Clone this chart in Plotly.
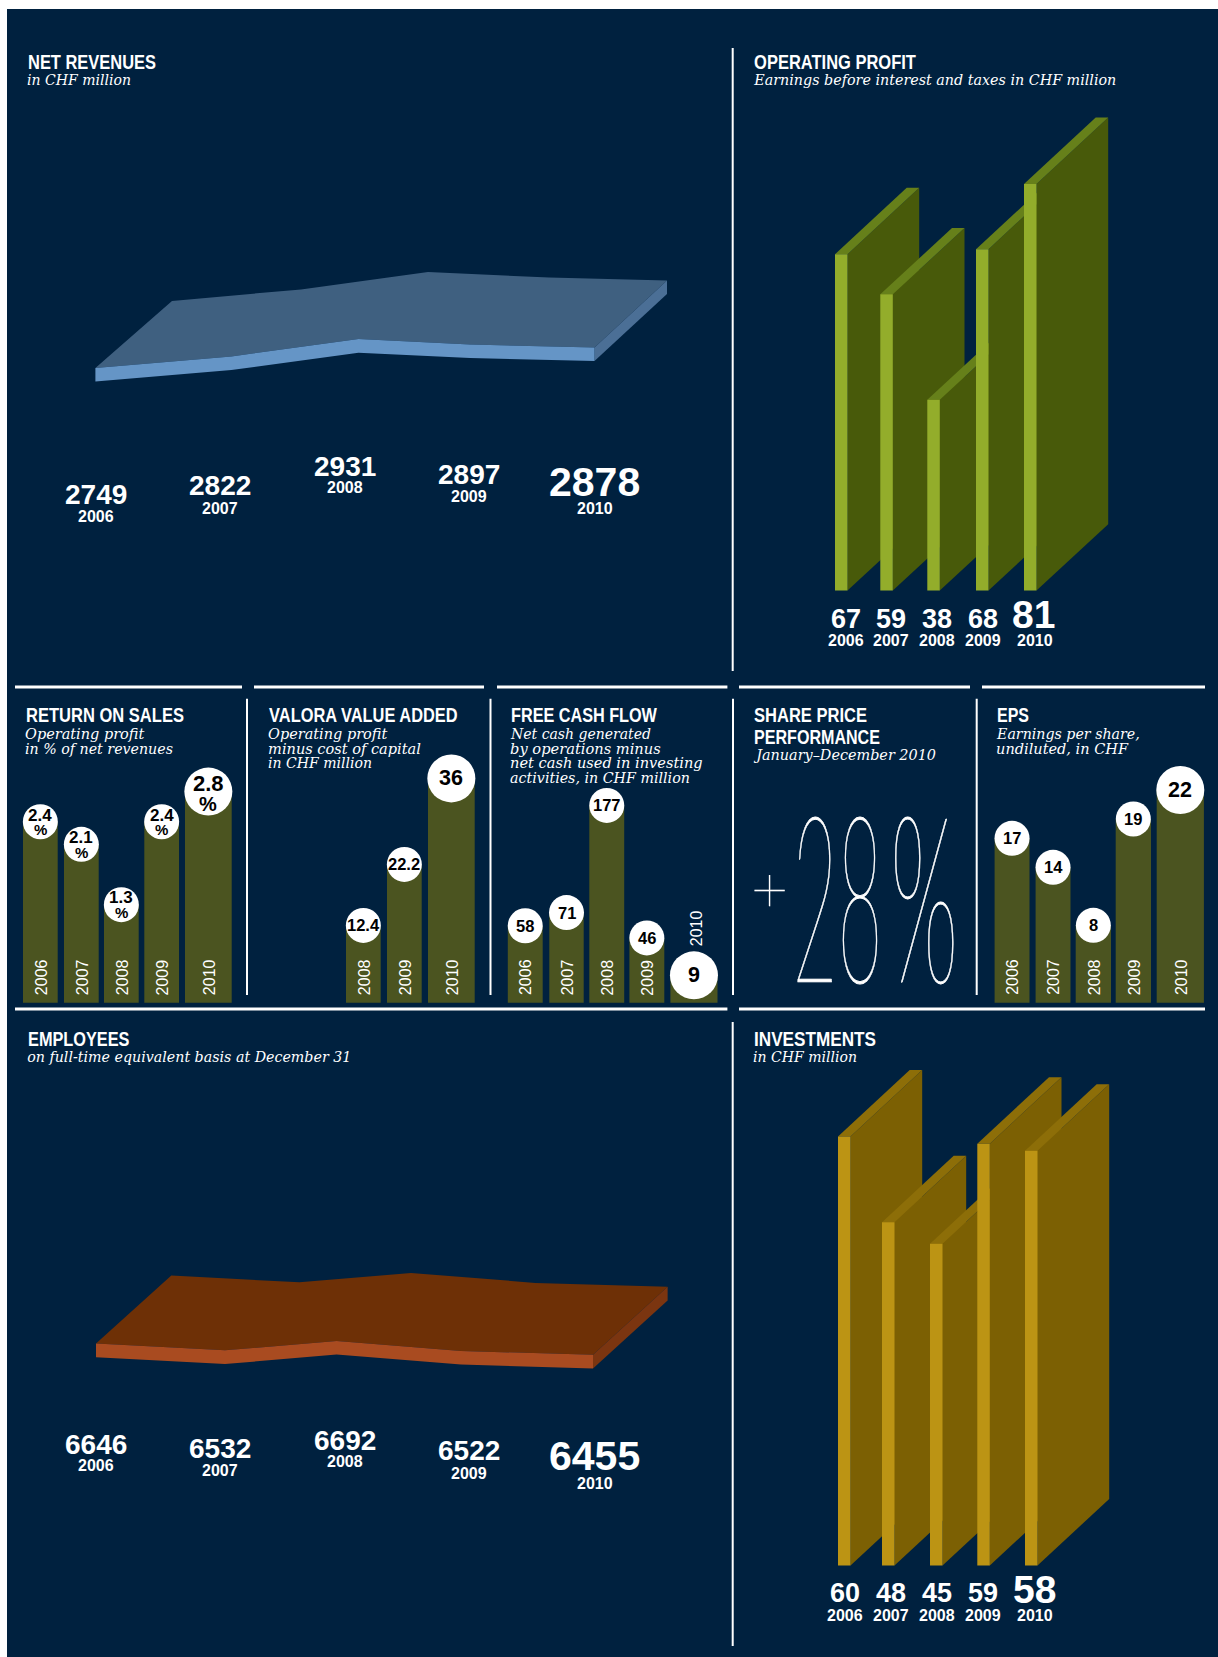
import json
import plotly.graph_objects as go

W, H = 1218, 1657

# ---- values -------------------------------------------------------------
YEARS = ["2006", "2007", "2008", "2009", "2010"]
NET_REVENUES = [2749, 2822, 2931, 2897, 2878]
EMPLOYEES = [6646, 6532, 6692, 6522, 6455]
OPERATING_PROFIT = [67, 59, 38, 68, 81]
INVESTMENTS = [60, 48, 45, 59, 58]
RETURN_ON_SALES = [2.4, 2.1, 1.3, 2.4, 2.8]
VALUE_ADDED_YEARS = ["2008", "2009", "2010"]
VALUE_ADDED = [12.4, 22.2, 36]
FREE_CASH_FLOW = [58, 71, 177, 46, 9]
EPS = [17, 14, 8, 19, 22]

# ---- palette ------------------------------------------------------------
NAVY = "#00213F"
WHITE = "#FFFFFF"
OLIVE = "#4B5420"
SANS = "Liberation Sans"
SERIF = "DejaVu Serif"

# Set widths of the headings and captions: the typeface is condensed to these pixel widths in the page.
FIT_WIDTHS = {
    "NET REVENUES": 128, "OPERATING PROFIT": 162, "RETURN ON SALES": 158, "VALORA VALUE ADDED": 188.7,
    "FREE CASH FLOW": 146, "SHARE PRICE": 113, "PERFORMANCE": 126, "EPS": 32, "EMPLOYEES": 101.5,
    "INVESTMENTS": 122, "in CHF million": 104, "Earnings before interest and taxes in CHF million": 362.5,
    "Operating profit": 119.3, "in % of net revenues": 148, "minus cost of capital": 153,
    "Net cash generated": 140, "by operations minus": 150.8, "net cash used in investing": 192.7,
    "activities, in CHF million": 180, "January–December 2010": 180, "Earnings per share,": 142.8,
    "undiluted, in CHF": 132, "on full-time equivalent basis at December 31": 324.5,
}

fig = go.Figure()
annotations = []
shapes = [dict(type="rect", xref="paper", yref="paper", x0=7 / W, x1=1, y0=0, y1=1 - 9 / H,
               fillcolor=NAVY, line_width=0, layer="below")]
axis_count = 0


def add_panel(x0, x1, y_top, y_zero, y_bottom, px_per_unit, floor=0):
    """Create an axis pair: x runs in page pixels, y in value units with a fixed pixel scale."""
    global axis_count
    axis_count += 1
    suffix = "" if axis_count == 1 else str(axis_count)
    common = dict(visible=False, fixedrange=True, showgrid=False, zeroline=False)
    fig.update_layout({
        "xaxis" + suffix: dict(domain=[x0 / W, x1 / W], range=[x0, x1], anchor="y" + suffix, **common),
        "yaxis" + suffix: dict(domain=[1 - y_bottom / H, 1 - y_top / H],
                               range=[floor - (y_bottom - y_zero) / px_per_unit,
                                      floor + (y_zero - y_top) / px_per_unit],
                               anchor="x" + suffix, **common),
    })
    return "x" + suffix, "y" + suffix


def polygon(xa, ya, xs, ys, colour):
    fig.add_trace(go.Scatter(x=xs, y=ys, xaxis=xa, yaxis=ya, mode="lines", fill="toself",
                             fillcolor=colour, line=dict(width=0), hoverinfo="skip", showlegend=False))


def label(text, x, y, size, colour=WHITE, family=SANS, bold=True, italic=False,
          xref="paper", yref="paper", yshift=0, anchor="center", angle=0, weight=None):
    annotations.append(dict(
        text=text, x=x / W if xref == "paper" else x, y=1 - y / H if yref == "paper" else y,
        xref=xref, yref=yref, yshift=yshift, xanchor=anchor, yanchor="middle", showarrow=False,
        textangle=angle, borderpad=0,
        font=dict(family=family, size=size, color=colour, weight=weight if weight else (700 if bold else 400),
                  style="italic" if italic else "normal")))


def heading(lines, subs, x, y_first, y_sub_first):
    for i, line in enumerate(lines):
        label(line, x, y_first + i * 22, 20.5, anchor="left")
    for i, line in enumerate(subs):
        label(line, x - 1, y_sub_first + i * 14.6, 14, family=SERIF, bold=False, italic=True, anchor="left")


def rule(x0, y0, x1, y1, width):
    shapes.append(dict(type="line", xref="paper", yref="paper", x0=x0 / W, x1=x1 / W,
                       y0=1 - y0 / H, y1=1 - y1 / H, line=dict(color=WHITE, width=width), layer="below"))


# ---- slab charts (net revenues, employees) ------------------------------
def slab(values, front_x, back_x, label_x, label_y, year_y, first_y, px_per_unit, depth, thick,
         top_c, front_c, side_c):
    xa, ya = add_panel(60, 720, first_y - 300, first_y, first_y + 300, px_per_unit, floor=values[0])
    d = depth / px_per_unit
    t = thick / px_per_unit
    polygon(xa, ya, front_x + back_x[::-1], values + [v + d for v in values[::-1]], top_c)
    polygon(xa, ya, [front_x[-1], back_x[-1], back_x[-1], front_x[-1]],
            [values[-1], values[-1] + d, values[-1] + d - t, values[-1] - t], side_c)
    polygon(xa, ya, front_x + front_x[::-1], values + [v - t for v in values[::-1]], front_c)
    for i, (v, year) in enumerate(zip(values, YEARS)):
        label(str(v), label_x[i], label_y[i], 41 if i == len(YEARS) - 1 else 28)
        label(year, label_x[i], year_y[i], 16)


LABEL_X = [96, 220, 345, 469, 594.5]
slab(NET_REVENUES, [95.4, 231.4, 358.5, 470, 594.5], [172, 301, 428, 549, 667], LABEL_X,
     [494.6, 485.7, 466, 474, 482], [516.8, 508.6, 488, 496, 508.6],
     368, 0.159, 67, 13.6, "#3F6080", "#6595C6", "#4B6F96")
slab(EMPLOYEES, [96, 225, 336.6, 461, 593], [171.3, 299.4, 411, 535.4, 667.6], LABEL_X,
     [1444, 1448.7, 1440, 1450.7, 1456], [1465.3, 1470.3, 1461.3, 1473.3, 1483.3],
     1343.6, 0.059, 68, 13.7, "#6E3006", "#A94B20", "#7B3510")


# ---- upright walls (operating profit, investments) ----------------------
def walls(values, lefts, strip, y_zero, px_per_unit, y_top, y_bottom, dx, dy, num_x, year_x, num_y, big_y, year_y,
          strip_c, wall_c, top_c):
    xa, ya = add_panel(760, 1180, y_top, y_zero, y_bottom, px_per_unit)
    d = dy / px_per_unit
    for left, v in zip(lefts, values):
        right = left + strip
        polygon(xa, ya, [right, right + dx, right + dx, right], [v, v + d, d, 0], wall_c)
        polygon(xa, ya, [left, left + dx, right + dx, right], [v, v + d, v + d, v], top_c)
        polygon(xa, ya, [left, right, right, left], [0, 0, v, v], strip_c)
    for i, (v, year) in enumerate(zip(values, YEARS)):
        last = i == len(YEARS) - 1
        label(str(v), num_x[i], big_y if last else num_y, 39 if last else 27)
        label(year, year_x[i], year_y, 16)


walls(OPERATING_PROFIT, [835, 880.3, 927.3, 976, 1024], 12.5, 590.5, 5.02, 60, 660, 71.7, 66.3,
      [845.5, 891, 936.5, 983, 1033], [845.5, 891, 937, 983, 1034.5], 619, 615, 640.5,
      "#93AD2B", "#485A0A", "#66801A")
walls(INVESTMENTS, [838, 882, 930, 977.3, 1025], 12.5, 1565.5, 7.15, 1060, 1650, 71.7, 66.5,
      [845.3, 891, 937, 983, 1034.7], [845.3, 891, 937, 983, 1034.7], 1593, 1589, 1615.7,
      "#BC9414", "#7C6003", "#8D6E08")


# ---- small bar charts ---------------------------------------------------
BASE_Y = 1002.7


def bars(values, years, edges, px_per_unit, floor, texts, big_size, small_size, two_line=False):
    xa, ya = add_panel(edges[0][0] - 10, edges[-1][1] + 10, 700, BASE_Y, BASE_Y + 2, px_per_unit, floor=floor)
    centres = [(a + b) / 2 for a, b in edges]
    widths = [b - a for a, b in edges]
    fig.add_trace(go.Bar(x=centres, y=[v - floor for v in values], base=floor, width=widths, xaxis=xa, yaxis=ya,
                         marker=dict(color=OLIVE, line_width=0), hoverinfo="skip", showlegend=False))
    sizes = [48 if i == len(values) - 1 else 35 for i in range(len(values))]
    fig.add_trace(go.Scatter(x=centres, y=values, mode="markers", xaxis=xa, yaxis=ya, cliponaxis=False,
                             marker=dict(size=sizes, color=WHITE, opacity=1, line_width=0), hoverinfo="skip",
                             showlegend=False))
    for i, (cx, v, txt, year) in enumerate(zip(centres, values, texts, years)):
        last = i == len(values) - 1
        size = big_size if last else small_size
        if two_line:
            label(txt, cx, v, size, colour="#000000", xref=xa, yref=ya, yshift=8 if last else 6.7)
            label("%", cx, v, 20 if last else 15, colour="#000000", xref=xa, yref=ya, yshift=-12 if last else -8)
        else:
            label(txt, cx, v, size, colour="#000000", xref=xa, yref=ya)
        raised = last and values is FREE_CASH_FLOW
        label(year, cx + 0.5 + (1.5 if raised else 0), floor, 16, xref=xa, yref=ya, bold=False, angle=-90,
              yshift=74.4 if raised else 25.4)


bars(RETURN_ON_SALES, YEARS, [(23, 57.7), (64, 98.7), (104, 138.7), (144.3, 179), (185, 231.7)],
     75.4, 0, [str(v) for v in RETURN_ON_SALES], 22, 17, two_line=True)
bars(VALUE_ADDED, VALUE_ADDED_YEARS, [(346, 380.7), (387, 421.7), (428, 474.7)],
     6.23, 0, [str(v) for v in VALUE_ADDED], 21.5, 16.5)
bars(FREE_CASH_FLOW, YEARS, [(507.8, 542.7), (549.3, 583.7), (589.3, 624.2), (629.4, 664.3), (670.4, 717.5)],
     1.011, -18.1, [str(v) for v in FREE_CASH_FLOW], 21.5, 16.5)
bars(EPS, YEARS, [(994.6, 1029.5), (1035.6, 1070.5), (1075.7, 1111), (1115.7, 1151), (1156.7, 1203.9)],
     9.67, 0, [str(v) for v in EPS], 21.5, 16.5)

# ---- headings -----------------------------------------------------------
heading(["NET REVENUES"], ["in CHF million"], 27, 61.5, 80)
heading(["OPERATING PROFIT"], ["Earnings before interest and taxes in CHF million"], 753.3, 61.5, 80)
heading(["RETURN ON SALES"], ["Operating profit", "in % of net revenues"], 24.5, 714.5, 734)
heading(["VALORA VALUE ADDED"], ["Operating profit", "minus cost of capital", "in CHF million"], 267.5, 714.5, 734)
heading(["FREE CASH FLOW"], ["Net cash generated", "by operations minus", "net cash used in investing",
                             "activities, in CHF million"], 510, 714.5, 734)
heading(["SHARE PRICE", "PERFORMANCE"], ["January–December 2010"], 753.3, 714.5, 755)
heading(["EPS"], ["Earnings per share,", "undiluted, in CHF"], 995.5, 714.5, 734)
heading(["EMPLOYEES"], ["on full-time equivalent basis at December 31"], 27, 1038, 1057)
heading(["INVESTMENTS"], ["in CHF million"], 753.3, 1038, 1057)

# ---- share price figure --------------------------------------------------
label("+", 769.5, 888, 64, family="Lato", weight=100)
label("28", 837, 892, 232, family="Lato", weight=100)
label("%", 924.5, 892, 232, family="Lato", weight=100)

# ---- rules ----------------------------------------------------------------
for a, b in [(15, 242), (254, 484), (497, 727.4), (739, 970), (982, 1205)]:
    rule(a, 687, b, 687, 3)
for a, b in [(15, 727.4), (739, 1205)]:
    rule(a, 1009, b, 1009, 3)
for x in (247, 490.5, 733, 976.7):
    rule(x, 698.7, x, 995, 2)
rule(732.7, 48, 732.7, 671, 2)
rule(732.7, 1022, 732.7, 1646, 2)

fig.update_layout(width=W, height=H, autosize=False, margin=dict(l=0, r=0, t=0, b=0, pad=0),
                  paper_bgcolor=WHITE, plot_bgcolor="rgba(0,0,0,0)", showlegend=False, barmode="overlay",
                  shapes=shapes, annotations=annotations)

# Headings and captions are condensed to their set widths; the share price figure is squeezed
# much further and its hairline strokes reinforced so they stay visible.
CONDENSE = """
var fit = %s;
var figure = {'28': 90, '%%': 68, '+': 0};
document.querySelectorAll('text.annotation-text').forEach(function (t) {
  var key = t.textContent, big = parseFloat(t.style.fontSize) > 60, target = null;
  if (big) {
    target = figure[key];
    t.style.stroke = '#FFFFFF';
    t.style.strokeWidth = '0.7px';
    t.style.vectorEffect = 'non-scaling-stroke';
    if (!target) return;
  } else if (key in fit) {
    target = fit[key];
  } else {
    return;
  }
  var box = t.getBBox(), px = big ? box.x + box.width / 2 : box.x;
  var s = target / t.getComputedTextLength();
  t.setAttribute('transform', 'translate(' + px + ' 0) scale(' + s + ' 1) translate(' + (-px) + ' 0)');
});
""" % json.dumps(FIT_WIDTHS, ensure_ascii=False)

fig.write_html("out.html", post_script=CONDENSE, config=dict(displayModeBar=False, responsive=False))
